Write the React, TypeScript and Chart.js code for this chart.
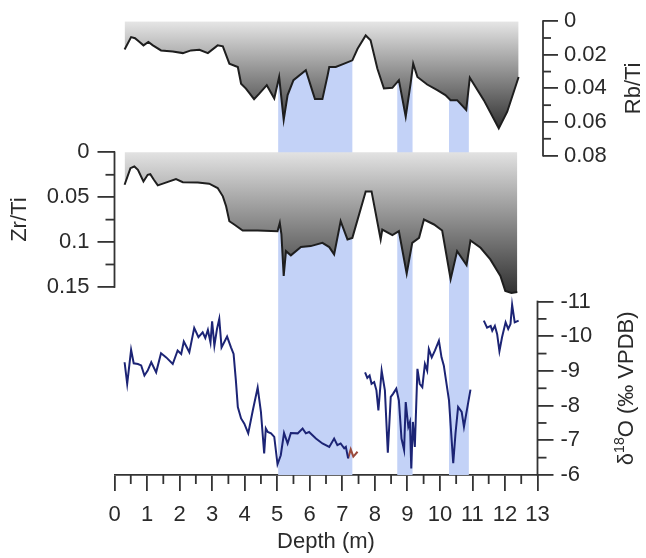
import React, { useEffect, useRef } from "react";
import { Chart, registerables } from "chart.js";

Chart.register(...registerables);

// ---------- data ----------
const depthTicks = [0, 1, 2, 3, 4, 5, 6, 7, 8, 9, 10, 11, 12, 13];
const depthMinorTicks = [0.5, 1.5, 2.5, 3.5, 4.5, 5.5, 6.5, 7.5, 8.5, 9.5, 10.5, 11.5, 12.5];
const rbTicks = [0, 0.02, 0.04, 0.06, 0.08];
const rbTickLabels = ["0", "0.02", "0.04", "0.06", "0.08"];
const rbMinorTicks = [0.01, 0.03, 0.05, 0.07];
const zrTicks = [0, 0.05, 0.1, 0.15];
const zrTickLabels = ["0", "0.05", "0.1", "0.15"];
const zrMinorTicks = [0.025, 0.075, 0.125];
const o18Ticks = [-11, -10, -9, -8, -7, -6];
const o18TickLabels = ["-11", "-10", "-9", "-8", "-7", "-6"];
const o18MinorTicks = [-10.5, -9.5, -8.5, -7.5, -6.5];

const bandStart = [5.03, 8.69, 10.28];
const bandEnd = [7.31, 9.16, 10.89];

const rbDepth = [0.31, 0.51, 0.63, 0.77, 0.89, 1.04, 1.18, 1.43, 1.79, 2.1, 2.35, 2.61, 2.87, 3.17, 3.33, 3.53, 3.79, 3.89, 4.04, 4.29, 4.45, 4.68, 4.91, 5.06, 5.2, 5.32, 5.5, 5.88, 6.09, 6.16, 6.39, 6.55, 6.6, 6.8, 7.06, 7.31, 7.47, 7.72, 7.87, 8.08, 8.28, 8.54, 8.74, 8.95, 9.1, 9.18, 9.31, 9.61, 9.92, 10.17, 10.33, 10.53, 10.81, 10.92, 11.35, 11.81, 12.07, 12.42];
const rbValue = [0.0168, 0.0095, 0.0101, 0.0124, 0.0144, 0.0124, 0.0144, 0.0174, 0.018, 0.019, 0.0174, 0.017, 0.019, 0.0144, 0.015, 0.0253, 0.0273, 0.0372, 0.0401, 0.0464, 0.0431, 0.0381, 0.046, 0.0332, 0.0588, 0.044, 0.0351, 0.0292, 0.0421, 0.0464, 0.0464, 0.0322, 0.0273, 0.0273, 0.0253, 0.0233, 0.0164, 0.0085, 0.0114, 0.0283, 0.0401, 0.0397, 0.0351, 0.0569, 0.0372, 0.0253, 0.0332, 0.0377, 0.0411, 0.044, 0.047, 0.047, 0.0529, 0.0336, 0.047, 0.0638, 0.0539, 0.0332];

const zrDepth = [0.31, 0.49, 0.61, 0.72, 0.89, 1.02, 1.1, 1.21, 1.33, 1.53, 1.89, 2.1, 2.56, 2.91, 3.17, 3.33, 3.43, 3.53, 3.68, 3.94, 4.4, 5.01, 5.08, 5.13, 5.2, 5.27, 5.42, 5.73, 6.03, 6.39, 6.6, 6.75, 6.95, 7.16, 7.31, 7.72, 7.9, 8.18, 8.23, 8.54, 8.74, 8.98, 9.15, 9.36, 9.51, 9.82, 10.07, 10.33, 10.53, 10.82, 10.94, 11.25, 11.55, 11.86, 12.01, 12.2, 12.38];
const zrValue = [0.0361, 0.0176, 0.0158, 0.0194, 0.0324, 0.025, 0.0243, 0.0305, 0.0368, 0.0343, 0.0298, 0.0332, 0.0335, 0.0349, 0.0398, 0.049, 0.0601, 0.0768, 0.0804, 0.0871, 0.0871, 0.0879, 0.0787, 0.0915, 0.1378, 0.1101, 0.1148, 0.1056, 0.1045, 0.1009, 0.1056, 0.1137, 0.0768, 0.0971, 0.0953, 0.0435, 0.0435, 0.0971, 0.086, 0.0923, 0.0879, 0.1352, 0.1009, 0.0953, 0.0749, 0.0804, 0.0871, 0.1415, 0.1101, 0.1256, 0.0982, 0.1064, 0.1193, 0.1378, 0.1544, 0.1567, 0.1556];

const o18DepthA = [0.31, 0.39, 0.51, 0.59, 0.72, 0.82, 0.92, 1.02, 1.13, 1.28, 1.43, 1.59, 1.79, 1.94, 2.05, 2.13, 2.3, 2.45, 2.58, 2.71, 2.79, 2.87, 2.95, 3.0, 3.07, 3.15, 3.22, 3.29, 3.46, 3.58, 3.66, 3.73, 3.79, 3.89, 3.99, 4.11, 4.25, 4.4, 4.5, 4.6, 4.65, 4.71, 4.81, 4.91, 5.01, 5.11, 5.21, 5.32, 5.42, 5.63, 5.78, 5.88, 5.98, 6.19, 6.39, 6.6, 6.75, 6.85, 6.95, 7.06, 7.11, 7.18];
const o18ValueA = [-9.25, -8.63, -9.61, -9.22, -9.2, -9.16, -8.87, -9.01, -9.25, -8.96, -9.51, -9.39, -9.2, -9.59, -9.49, -9.85, -9.54, -10.24, -9.97, -10.11, -9.95, -10.18, -9.82, -10.43, -9.73, -10.21, -10.5, -9.68, -9.99, -9.68, -9.49, -8.73, -7.96, -7.63, -7.48, -7.2, -7.86, -8.52, -7.82, -6.62, -7.34, -7.24, -7.2, -7.1, -6.31, -6.57, -7.21, -6.91, -7.21, -7.2, -7.34, -7.2, -7.24, -7.05, -6.91, -6.81, -7.05, -6.86, -6.91, -6.77, -6.81, -6.48];
const o18DepthRed = [7.18, 7.26, 7.34, 7.47];
const o18ValueRed = [-6.48, -6.74, -6.53, -6.67];
const o18DepthB = [7.7, 7.77, 7.84, 7.9, 7.98, 8.05, 8.11, 8.21, 8.31, 8.4, 8.49, 8.56, 8.66, 8.74, 8.82, 8.9, 8.95, 9.03, 9.08, 9.12, 9.17, 9.23, 9.31, 9.38, 9.46, 9.54, 9.61, 9.66, 9.75, 9.85, 9.97, 10.05, 10.12, 10.28, 10.41, 10.48, 10.56, 10.67, 10.74, 10.82, 10.94];
const o18ValueB = [-8.96, -8.8, -8.87, -8.63, -8.68, -8.44, -7.86, -9.01, -8.44, -6.64, -8.25, -8.34, -8.49, -8.15, -7.05, -6.72, -8.1, -7.39, -7.53, -6.19, -7.53, -6.81, -9.06, -8.63, -8.53, -9.2, -9.01, -9.63, -9.39, -9.59, -9.87, -9.39, -9.16, -8.15, -6.34, -7.2, -7.96, -7.82, -7.39, -7.82, -8.46];
const o18DepthC = [11.35, 11.45, 11.56, 11.61, 11.69, 11.76, 11.83, 11.91, 12.02, 12.1, 12.17, 12.22, 12.3, 12.42];
const o18ValueC = [-10.45, -10.25, -10.3, -10.16, -10.3, -10.06, -9.57, -9.97, -10.4, -10.21, -10.35, -10.91, -10.4, -10.45];

// ---------- layout / style ----------
const W = 646;
const H = 558;
const TOP = 19;
const BOTTOM = 475;
const LEFT = 114.5;
const RIGHT = 537.5;
const O_AXIS_W = 5.5;
const FAMILY = "'Liberation Sans', Arial, Helvetica, sans-serif";
const AX = "#333333";
const TXT = "#2a2a2a";
const BAND = "#c3d2f7";
const NAVY = "#1c2475";

// range of a reversed vertical axis so that value v0 sits at pixel p0 and v1 at p1
function rangeFor(v0: number, p0: number, v1: number, p1: number) {
  const k = (v1 - v0) / (p1 - p0);
  return { min: v0 + (TOP - p0) * k, max: v0 + (BOTTOM - p0) * k };
}
const rbRange = rangeFor(0, 19, 0.08, 154);
const zrRange = rangeFor(0, 150.8, 0.15, 286);
const o18Range = rangeFor(-11, 300.7, -6, 475);

const pts = (xs: number[], ys: number[]) => xs.map((x, i) => ({ x, y: ys[i] }));

const fixedTicks = (vals: number[]) => (s: any) => {
  s.ticks = vals.map((v) => ({ value: v }));
};

const overlayPlugin = {
  id: "overlay",
  afterLayout(chart: any) {
    // the δ18O axis occupies only a thin slot; widen its box after layout so its labels are not clipped
    const s = chart.scales.yO;
    if (s) s.right = s.left + 90;
  },
  beforeDatasetsDraw(chart: any) {
    const { ctx, chartArea, scales } = chart;
    ctx.save();
    ctx.fillStyle = BAND;
    bandStart.forEach((a, i) => {
      const x0 = scales.x.getPixelForValue(a);
      const x1 = scales.x.getPixelForValue(bandEnd[i]);
      ctx.fillRect(x0, chartArea.top + 1, x1 - x0, chartArea.bottom - chartArea.top - 1);
    });
    ctx.restore();
  },
  afterDraw(chart: any) {
    const { ctx, chartArea, scales } = chart;
    const x = scales.x;
    const zr = scales.yZr;
    const rb = scales.yRb;
    const o = scales.yO;
    ctx.save();
    ctx.strokeStyle = AX;
    ctx.lineWidth = 1.8;
    ctx.lineCap = "butt";
    const line = (x1: number, y1: number, x2: number, y2: number) => {
      ctx.beginPath();
      ctx.moveTo(x1, y1);
      ctx.lineTo(x2, y2);
      ctx.stroke();
    };
    // axis spines limited to each panel
    line(zr.right, zr.getPixelForValue(0) - 0.9, zr.right, zr.getPixelForValue(0.15) + 0.9);
    line(rb.left, rb.getPixelForValue(0) - 0.9, rb.left, rb.getPixelForValue(0.08) + 0.9);
    line(o.left, o.getPixelForValue(-11) - 0.9, o.left, o.getPixelForValue(-6) + 0.9);
    // minor ticks
    depthMinorTicks.forEach((v) => {
      const px = x.getPixelForValue(v);
      line(px, chartArea.bottom, px, chartArea.bottom + 9);
    });
    zrMinorTicks.forEach((v) => {
      const py = zr.getPixelForValue(v);
      line(zr.right - 9, py, zr.right, py);
    });
    rbMinorTicks.forEach((v) => {
      const py = rb.getPixelForValue(v);
      line(rb.left, py, rb.left + 8, py);
    });
    o18MinorTicks.forEach((v) => {
      const py = o.getPixelForValue(v);
      line(o.left, py, o.left + 9, py);
    });
    // axis titles
    ctx.fillStyle = TXT;
    ctx.textBaseline = "middle";
    ctx.textAlign = "center";
    const vtext = (t: string, cx: number, cy: number) => {
      ctx.save();
      ctx.translate(cx, cy);
      ctx.rotate(-Math.PI / 2);
      ctx.font = `22px ${FAMILY}`;
      ctx.fillText(t, 0, 0);
      ctx.restore();
    };
    vtext("Rb/Ti", rb.right - 12, (rb.getPixelForValue(0) + rb.getPixelForValue(0.08)) / 2);
    vtext("Zr/Ti", zr.left + 20, (zr.getPixelForValue(0) + zr.getPixelForValue(0.15)) / 2);
    // δ18O (‰ VPDB) with superscript
    {
      const cx = o.left + 89.5;
      const cy = (o.getPixelForValue(-11) + o.getPixelForValue(-6)) / 2;
      const big = `22px ${FAMILY}`;
      const small = `14px ${FAMILY}`;
      const parts: [string, string, number][] = [
        ["δ", big, 0],
        ["18", small, -7],
        ["O (‰ VPDB)", big, 0],
      ];
      let total = 0;
      const widths = parts.map(([t, f]) => {
        ctx.font = f;
        const w = ctx.measureText(t).width;
        total += w;
        return w;
      });
      ctx.save();
      ctx.translate(cx, cy);
      ctx.rotate(-Math.PI / 2);
      ctx.textAlign = "left";
      let px = -total / 2;
      parts.forEach(([t, f, dy], i) => {
        ctx.font = f;
        ctx.fillText(t, px, dy);
        px += widths[i];
      });
      ctx.restore();
    }
    ctx.restore();
  },
};

function grayGradient(scaleId: string, v0: number, v1: number, c0: string, c1: string) {
  return (c: any) => {
    const chart = c.chart;
    const s = chart.scales && chart.scales[scaleId];
    if (!chart.chartArea || !s) return c0;
    const g = chart.ctx.createLinearGradient(0, s.getPixelForValue(v0), 0, s.getPixelForValue(v1));
    g.addColorStop(0, c0);
    g.addColorStop(1, c1);
    return g;
  };
}

export default function App() {
  const ref = useRef<HTMLCanvasElement | null>(null);

  useEffect(() => {
    if (!ref.current) return;
    const tickFont = { family: FAMILY, size: 22 };
    const chart = new Chart(ref.current, {
      type: "line",
      data: {
        datasets: [
          {
            label: "Rb/Ti",
            data: pts(rbDepth, rbValue),
            yAxisID: "yRb",
            borderColor: "#1e1e1e",
            borderWidth: 2,
            pointRadius: 0,
            tension: 0,
            fill: { value: 0 },
            backgroundColor: grayGradient("yRb", 0, 0.066, "#e6e6e6", "#2c2c2c"),
          },
          {
            label: "Zr/Ti",
            data: pts(zrDepth, zrValue),
            yAxisID: "yZr",
            borderColor: "#1e1e1e",
            borderWidth: 2,
            pointRadius: 0,
            tension: 0,
            fill: { value: 0 },
            backgroundColor: grayGradient("yZr", 0, 0.16, "#e2e2e2", "#2e2e2e"),
          },
          {
            label: "d18O A",
            data: pts(o18DepthA, o18ValueA),
            yAxisID: "yO",
            borderColor: NAVY,
            borderWidth: 2,
            pointRadius: 0,
            tension: 0,
            fill: false,
          },
          {
            label: "d18O red",
            data: pts(o18DepthRed, o18ValueRed),
            yAxisID: "yO",
            borderColor: "#9a4a3c",
            borderWidth: 2,
            pointRadius: 0,
            tension: 0,
            fill: false,
          },
          {
            label: "d18O B",
            data: pts(o18DepthB, o18ValueB),
            yAxisID: "yO",
            borderColor: NAVY,
            borderWidth: 2,
            pointRadius: 0,
            tension: 0,
            fill: false,
          },
          {
            label: "d18O C",
            data: pts(o18DepthC, o18ValueC),
            yAxisID: "yO",
            borderColor: NAVY,
            borderWidth: 2,
            pointRadius: 0,
            tension: 0,
            fill: false,
          },
        ],
      },
      options: {
        animation: false,
        responsive: false,
        devicePixelRatio: 1,
        events: [],
        layout: { padding: { top: TOP, left: 0, right: 0, bottom: 0 } },
        plugins: {
          legend: { display: false },
          tooltip: { enabled: false },
        },
        scales: {
          x: {
            type: "linear",
            position: "bottom",
            min: 0,
            max: 13,
            afterBuildTicks: fixedTicks(depthTicks),
            afterFit: (s: any) => {
              s.height = H - BOTTOM;
            },
            ticks: {
              font: tickFont,
              color: TXT,
              padding: 11,
              maxRotation: 0,
              autoSkip: false,
              callback: (v: any) => String(v),
            },
            grid: { drawOnChartArea: false, tickLength: 16, color: AX, lineWidth: 1.8 },
            border: { display: true, color: AX, width: 1.8 },
            title: {
              display: true,
              text: "Depth (m)",
              color: TXT,
              font: { family: FAMILY, size: 22 },
              padding: { top: 0, bottom: 3 },
            },
          },
          yZr: {
            type: "linear",
            position: "left",
            reverse: true,
            min: zrRange.min,
            max: zrRange.max,
            afterBuildTicks: fixedTicks(zrTicks),
            afterFit: (s: any) => {
              s.width = LEFT;
            },
            ticks: {
              font: tickFont,
              color: TXT,
              padding: 8,
              autoSkip: false,
              callback: (v: any) => zrTickLabels[zrTicks.indexOf(v)] ?? "",
            },
            grid: { drawOnChartArea: false, tickLength: 17, color: AX, lineWidth: 1.8 },
            border: { display: false },
          },
          yO: {
            type: "linear",
            position: "right",
            weight: 0,
            reverse: true,
            min: o18Range.min,
            max: o18Range.max,
            afterBuildTicks: fixedTicks(o18Ticks),
            afterFit: (s: any) => {
              s.width = O_AXIS_W;
            },
            ticks: {
              font: tickFont,
              color: TXT,
              padding: 7,
              autoSkip: false,
              callback: (v: any) => o18TickLabels[o18Ticks.indexOf(v)] ?? "",
            },
            grid: { drawOnChartArea: false, tickLength: 16, color: AX, lineWidth: 1.8 },
            border: { display: false },
          },
          yRb: {
            type: "linear",
            position: "right",
            weight: 1,
            reverse: true,
            min: rbRange.min,
            max: rbRange.max,
            afterBuildTicks: fixedTicks(rbTicks),
            afterFit: (s: any) => {
              s.width = W - RIGHT - O_AXIS_W;
            },
            ticks: {
              font: tickFont,
              color: TXT,
              padding: 6,
              autoSkip: false,
              callback: (v: any) => rbTickLabels[rbTicks.indexOf(v)] ?? "",
            },
            grid: { drawOnChartArea: false, tickLength: 15, color: AX, lineWidth: 1.8 },
            border: { display: false },
          },
        },
      },
      plugins: [overlayPlugin],
    } as any);
    return () => chart.destroy();
  }, []);

  return (
    <div style={{ position: "absolute", left: 0, top: 0, width: W, height: H, background: "#ffffff" }}>
      <canvas ref={ref} width={W} height={H} style={{ display: "block", width: W, height: H }} />
    </div>
  );
}
